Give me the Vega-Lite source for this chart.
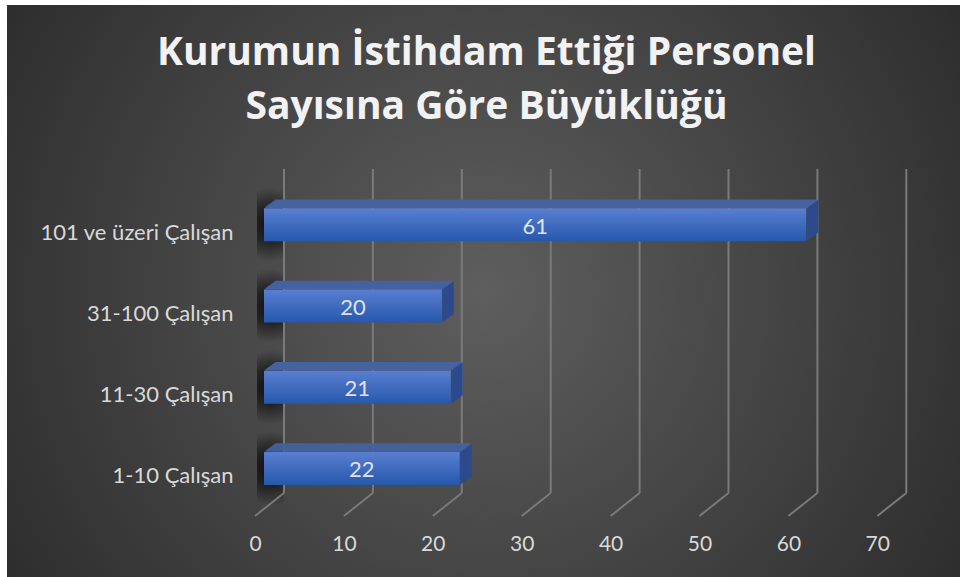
{"$schema":"https://vega.github.io/schema/vega-lite/v6.json","width":953,"height":572,"autosize":{"type":"none"},"padding":{"left":7,"top":5,"right":0,"bottom":0},"background":"#ffffff",
"view":{"stroke":null,"fill":{"gradient":"radial","x1":0.5,"y1":0.5,"r1":0,"x2":0.5,"y2":0.5,"r2":0.65,"stops":[{"offset":0,"color":"#5e5e5e"},{"offset":0.5,"color":"#434343"},{"offset":1,"color":"#282828"}]}},
"title":{"text":["Kurumun İstihdam Ettiği Personel","Sayısına Göre Büyüklüğü"],"font":"Open Sans","fontSize":39,"fontWeight":"bold","color":"#f2f2f2","anchor":"middle","frame":"group","lineHeight":54,"baseline":"alphabetic","offset":-153,"dx":3},
"datasets":{"bars":[{"cat":"101 ve üzeri Çalışan","n":61,"zero":0},{"cat":"31-100 Çalışan","n":20,"zero":0},{"cat":"11-30 Çalışan","n":21,"zero":0},{"cat":"1-10 Çalışan","n":22,"zero":0}],"grid":[{"v":0,"top":"101 ve üzeri Çalışan","bottom":"1-10 Çalışan"},{"v":10,"top":"101 ve üzeri Çalışan","bottom":"1-10 Çalışan"},{"v":20,"top":"101 ve üzeri Çalışan","bottom":"1-10 Çalışan"},{"v":30,"top":"101 ve üzeri Çalışan","bottom":"1-10 Çalışan"},{"v":40,"top":"101 ve üzeri Çalışan","bottom":"1-10 Çalışan"},{"v":50,"top":"101 ve üzeri Çalışan","bottom":"1-10 Çalışan"},{"v":60,"top":"101 ve üzeri Çalışan","bottom":"1-10 Çalışan"},{"v":70,"top":"101 ve üzeri Çalışan","bottom":"1-10 Çalışan"}]},
"data":{"name":"bars"},
"layer":[
{"mark":{"type":"bar","height":74,"xOffset":-7,"x2Offset":20,"fill":{"gradient":"radial","x1":0.5,"y1":0.5,"r1":0,"x2":0.5,"y2":0.5,"r2":0.5,"stops":[{"offset":0,"color":"rgba(0,0,0,0.8)"},{"offset":0.5,"color":"rgba(0,0,0,0.5)"},{"offset":1,"color":"rgba(0,0,0,0)"}]}},"encoding":{"x":{"field":"zero","type":"quantitative","scale":{"domain":[0,70],"range":[257,879.3]},"axis":{"title":null,"values":[0,10,20,30,40,50,60,70],"domain":false,"ticks":false,"grid":false,"labelFlush":false,"labelFont":"Lato","labelFontSize":21,"labelColor":"#d9d9d9","labelOffset":-9,"offset":-56,"labelPadding":12}},"x2":{"field":"zero"},"y":{"field":"cat","type":"nominal","sort":null,"title":null,"scale":{"domain":["101 ve üzeri Çalışan","31-100 Çalışan","11-30 Çalışan","1-10 Çalışan"],"range":[179,504],"paddingInner":0,"paddingOuter":0},"axis":{"domain":false,"ticks":false,"grid":false,"labelFont":"Lato","labelFontSize":22,"labelColor":"#d9d9d9","labelOffset":8,"offset":-226,"labelPadding":0,"labelLimit":260}}}},
{"data":{"name":"grid"},"mark":{"type":"rule","color":"#7a7a7a","strokeWidth":2,"xOffset":20,"yOffset":-55.6,"y2Offset":24.6},"encoding":{"x":{"field":"v","type":"quantitative"},"y":{"field":"top","type":"nominal"},"y2":{"field":"bottom"}}},
{"data":{"name":"grid"},"mark":{"type":"rule","color":"#7a7a7a","strokeWidth":2,"xOffset":-9,"x2Offset":20,"yOffset":47.6,"y2Offset":24.6},"encoding":{"x":{"field":"v","type":"quantitative"},"x2":{"field":"v"},"y":{"field":"bottom","type":"nominal"},"y2":{"field":"bottom"}}},
{"mark":{"type":"rule","color":"#2c4a8c","strokeWidth":2,"xOffset":11,"yOffset":-24.5,"y2Offset":8.5},"encoding":{"x":{"field":"n","type":"quantitative"},"y":{"field":"cat","type":"nominal"},"y2":{"field":"cat"}}},
{"mark":{"type":"rule","color":"#2c4a8c","strokeWidth":2,"xOffset":9.6,"yOffset":-23.5,"y2Offset":9.5},"encoding":{"x":{"field":"n","type":"quantitative"},"y":{"field":"cat","type":"nominal"},"y2":{"field":"cat"}}},
{"mark":{"type":"rule","color":"#2c4a8c","strokeWidth":2,"xOffset":8.25,"yOffset":-22.5,"y2Offset":10.5},"encoding":{"x":{"field":"n","type":"quantitative"},"y":{"field":"cat","type":"nominal"},"y2":{"field":"cat"}}},
{"mark":{"type":"rule","color":"#2c4a8c","strokeWidth":2,"xOffset":6.9,"yOffset":-21.5,"y2Offset":11.5},"encoding":{"x":{"field":"n","type":"quantitative"},"y":{"field":"cat","type":"nominal"},"y2":{"field":"cat"}}},
{"mark":{"type":"rule","color":"#2c4a8c","strokeWidth":2,"xOffset":5.5,"yOffset":-20.5,"y2Offset":12.5},"encoding":{"x":{"field":"n","type":"quantitative"},"y":{"field":"cat","type":"nominal"},"y2":{"field":"cat"}}},
{"mark":{"type":"rule","color":"#2c4a8c","strokeWidth":2,"xOffset":4.1,"yOffset":-19.5,"y2Offset":13.5},"encoding":{"x":{"field":"n","type":"quantitative"},"y":{"field":"cat","type":"nominal"},"y2":{"field":"cat"}}},
{"mark":{"type":"rule","color":"#2c4a8c","strokeWidth":2,"xOffset":2.75,"yOffset":-18.5,"y2Offset":14.5},"encoding":{"x":{"field":"n","type":"quantitative"},"y":{"field":"cat","type":"nominal"},"y2":{"field":"cat"}}},
{"mark":{"type":"rule","color":"#2c4a8c","strokeWidth":2,"xOffset":1.4,"yOffset":-17.5,"y2Offset":15.5},"encoding":{"x":{"field":"n","type":"quantitative"},"y":{"field":"cat","type":"nominal"},"y2":{"field":"cat"}}},
{"mark":{"type":"rule","color":"#46629f","strokeWidth":1.5,"xOffset":11,"x2Offset":11,"yOffset":-24.5},"encoding":{"x":{"field":"zero","type":"quantitative"},"x2":{"field":"n"},"y":{"field":"cat","type":"nominal"}}},
{"mark":{"type":"rule","color":"#46629f","strokeWidth":1.5,"xOffset":9.6,"x2Offset":9.6,"yOffset":-23.5},"encoding":{"x":{"field":"zero","type":"quantitative"},"x2":{"field":"n"},"y":{"field":"cat","type":"nominal"}}},
{"mark":{"type":"rule","color":"#46629f","strokeWidth":1.5,"xOffset":8.25,"x2Offset":8.25,"yOffset":-22.5},"encoding":{"x":{"field":"zero","type":"quantitative"},"x2":{"field":"n"},"y":{"field":"cat","type":"nominal"}}},
{"mark":{"type":"rule","color":"#46629f","strokeWidth":1.5,"xOffset":6.9,"x2Offset":6.9,"yOffset":-21.5},"encoding":{"x":{"field":"zero","type":"quantitative"},"x2":{"field":"n"},"y":{"field":"cat","type":"nominal"}}},
{"mark":{"type":"rule","color":"#46629f","strokeWidth":1.5,"xOffset":5.5,"x2Offset":5.5,"yOffset":-20.5},"encoding":{"x":{"field":"zero","type":"quantitative"},"x2":{"field":"n"},"y":{"field":"cat","type":"nominal"}}},
{"mark":{"type":"rule","color":"#46629f","strokeWidth":1.5,"xOffset":4.1,"x2Offset":4.1,"yOffset":-19.5},"encoding":{"x":{"field":"zero","type":"quantitative"},"x2":{"field":"n"},"y":{"field":"cat","type":"nominal"}}},
{"mark":{"type":"rule","color":"#46629f","strokeWidth":1.5,"xOffset":2.75,"x2Offset":2.75,"yOffset":-18.5},"encoding":{"x":{"field":"zero","type":"quantitative"},"x2":{"field":"n"},"y":{"field":"cat","type":"nominal"}}},
{"mark":{"type":"rule","color":"#46629f","strokeWidth":1.5,"xOffset":1.4,"x2Offset":1.4,"yOffset":-17.5},"encoding":{"x":{"field":"zero","type":"quantitative"},"x2":{"field":"n"},"y":{"field":"cat","type":"nominal"}}},
{"mark":{"type":"bar","height":33,"fill":{"gradient":"linear","x1":0,"y1":0,"x2":0,"y2":1,"stops":[{"offset":0,"color":"#5a7fd0"},{"offset":1,"color":"#2658ac"}]}},"encoding":{"x":{"field":"n","type":"quantitative"},"y":{"field":"cat","type":"nominal"}}},
{"transform":[{"calculate":"datum.n/2","as":"mid"}],"mark":{"type":"text","font":"Lato","fontSize":22,"color":"#dfe3ea","baseline":"middle","dy":2},"encoding":{"x":{"field":"mid","type":"quantitative"},"y":{"field":"cat","type":"nominal"},"text":{"field":"n","type":"quantitative"}}}
]}
